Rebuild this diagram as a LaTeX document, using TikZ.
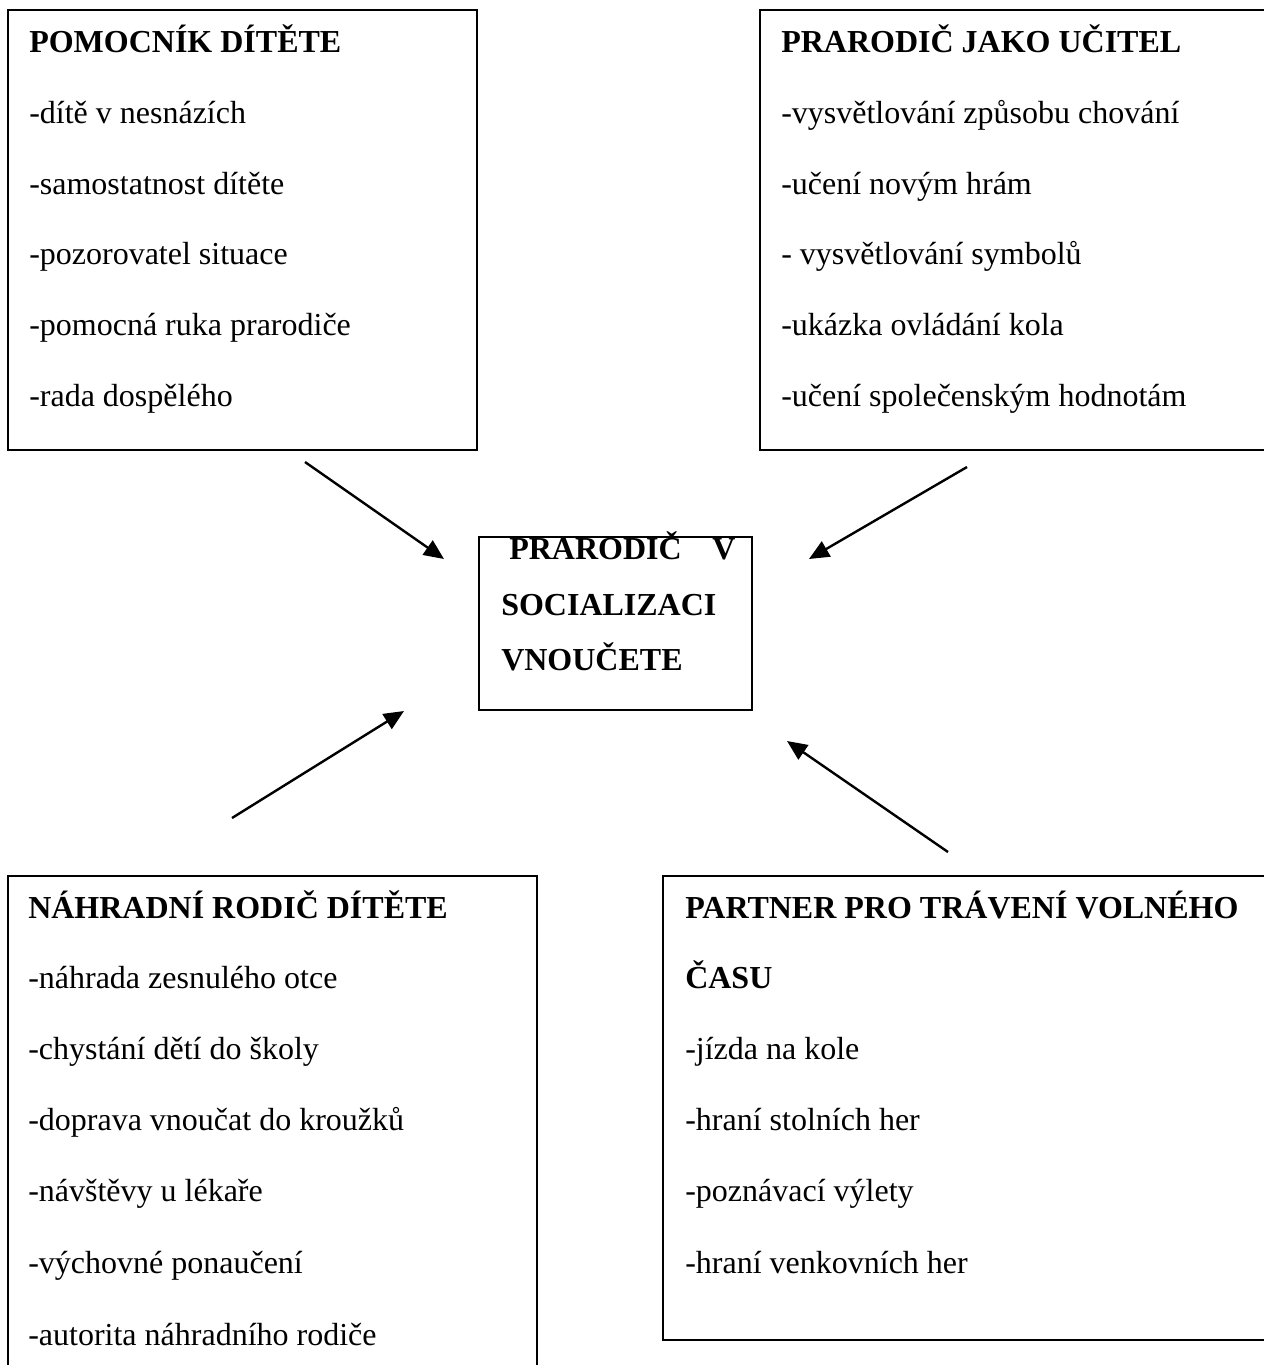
\documentclass[tikz,border=0pt]{standalone}
\usepackage{fontspec}
\setmainfont{Liberation Serif}
\usetikzlibrary{arrows.meta,fit}
\tikzset{
  boxst/.style={draw=black, line width=1pt, inner sep=0pt},
  txt/.style={anchor=base west, inner sep=0pt, font=\fontsize{24}{28}\selectfont},
  ttl/.style={txt, font=\fontsize{24}{28}\selectfont\bfseries},
  arr/.style={line width=1.8pt, -{Triangle[length=15pt,width=13pt]}}
}
\begin{document}
\begin{tikzpicture}[x=0.75pt,y=-0.75pt]
\useasboundingbox (0,0) rectangle (1264,1365);
% boxes
\node[boxst, fit={(8,10)(477,450)}] (b1) {};
\node[boxst, fit={(760,10)(1268,450)}] (b2) {};
\node[boxst, fit={(479,537)(752,710)}] (bc) {};
\node[boxst, fit={(8,876)(537,1372)}] (b3) {};
\node[boxst, fit={(663,876)(1268,1340)}] (b4) {};
% box 1
\node[ttl] (t1) at (29,52) {POMOCNÍK DÍTĚTE};
\node[txt] (l11) at (29,123) {-dítě v nesnázích};
\node[txt] (l12) at (29,194) {-samostatnost dítěte};
\node[txt] (l13) at (29,264) {-pozorovatel situace};
\node[txt] (l14) at (29,335) {-pomocná ruka prarodiče};
\node[txt] (l15) at (29,406) {-rada dospělého};
% box 2
\node[ttl] (t2) at (781,52) {PRARODIČ JAKO UČITEL};
\node[txt] (l21) at (781,123) {-vysvětlování způsobu chování};
\node[txt] (l22) at (781,194) {-učení novým hrám};
\node[txt] (l23) at (781,264) {- vysvětlování symbolů};
\node[txt] (l24) at (781,335) {-ukázka ovládání kola};
\node[txt] (l25) at (781,406) {-učení společenským hodnotám};
% centre
\node[ttl] (c1) at (509,559) {PRARODIČ\hspace*{23pt}V};
\node[ttl] (c2) at (501,615) {SOCIALIZACI};
\node[ttl] (c3) at (501,670) {VNOUČETE};
% box 3
\node[ttl] (t3) at (28,918) {NÁHRADNÍ RODIČ DÍTĚTE};
\node[txt] (l31) at (28,988) {-náhrada zesnulého otce};
\node[txt] (l32) at (28,1059) {-chystání dětí do školy};
\node[txt] (l33) at (28,1130) {-doprava vnoučat do kroužků};
\node[txt] (l34) at (28,1201) {-návštěvy u lékaře};
\node[txt] (l35) at (28,1273) {-výchovné ponaučení};
\node[txt] (l36) at (28,1345) {-autorita náhradního rodiče};
% box 4
\node[ttl] (t4) at (685,918) {PARTNER PRO TRÁVENÍ VOLNÉHO};
\node[ttl] (t4b) at (685,988) {ČASU};
\node[txt] (l41) at (685,1059) {-jízda na kole};
\node[txt] (l42) at (685,1130) {-hraní stolních her};
\node[txt] (l43) at (685,1201) {-poznávací výlety};
\node[txt] (l44) at (685,1273) {-hraní venkovních her};
% arrows
\coordinate (a1s) at (305,462);
\coordinate (a1e) at (444,559);
\coordinate (a2s) at (967,467);
\coordinate (a2e) at (809,559);
\coordinate (a3s) at (232,818);
\coordinate (a3e) at (404,711);
\coordinate (a4s) at (948,852);
\coordinate (a4e) at (787,741);
\draw[arr] (a1s) -- (a1e);
\draw[arr] (a2s) -- (a2e);
\draw[arr] (a3s) -- (a3e);
\draw[arr] (a4s) -- (a4e);
\end{tikzpicture}
\end{document}
